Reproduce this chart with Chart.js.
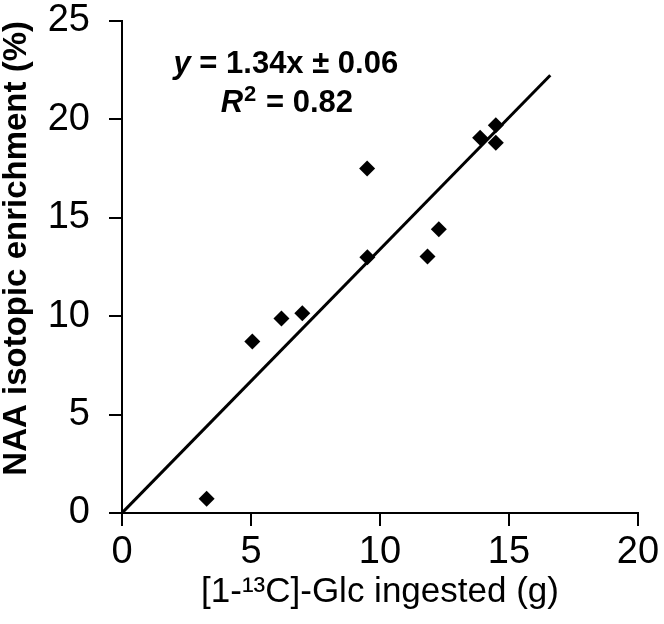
<!DOCTYPE html>
<html>
<head>
<meta charset="utf-8">
<script src="https://cdn.jsdelivr.net/npm/chart.js@4/dist/chart.umd.min.js"></script>
<style>
  html, body { margin: 0; padding: 0; background: #fff; }
  #wrap { width: 664px; height: 624px; }
</style>
</head>
<body>
<div id="wrap"><canvas id="chart" width="664" height="624"></canvas></div>
<script>
// ==== data ====
const glcIngested = [3.28, 5.05, 6.18, 6.99, 9.50, 9.51, 11.84, 12.28, 13.88, 14.49, 14.49];
const naaEnrichment = [0.73, 8.71, 9.88, 10.15, 17.51, 13.0, 13.03, 14.42, 19.07, 19.70, 18.81];

// fitted line endpoints (y = 1.34x)
const fitX = [0, 16.6];
const fitY = [0, 22.24];

const xTicks = [0, 5, 10, 15, 20];
const yTicks = [0, 5, 10, 15, 20, 25];

const xTitle = '[1-\u00B9\u00B3C]-Glc ingested (g)';
const yTitle = 'NAA isotopic enrichment (%)';

const FONT = '"Liberation Sans", Arial, sans-serif';

// equation text drawn on top of the plot
const equationPlugin = {
  id: 'equation',
  afterDatasetsDraw(chart) {
    const ctx = chart.ctx;
    const x = chart.scales.x, y = chart.scales.y;
    const cx = x.getPixelForValue(6.35);

    ctx.save();
    ctx.fillStyle = '#000';
    ctx.textBaseline = 'alphabetic';
    ctx.textAlign = 'left';

    // line 1: y = 1.34x ± 0.06
    const italic = 'italic bold 31px ' + FONT;
    const bold = 'bold 31px ' + FONT;
    ctx.font = italic;
    const w1 = ctx.measureText('y').width;
    ctx.font = bold;
    const w2 = ctx.measureText(' = 1.34x \u00B1 0.06').width;
    let px = cx - (w1 + w2) / 2;
    const by1 = y.getPixelForValue(22.35);
    ctx.font = italic;
    ctx.fillText('y', px, by1);
    ctx.font = bold;
    ctx.fillText(' = 1.34x \u00B1 0.06', px + w1, by1);

    // line 2: R² = 0.82
    const sup = 'bold 22px ' + FONT;
    ctx.font = italic;
    const r1 = ctx.measureText('R').width;
    ctx.font = sup;
    const r2 = ctx.measureText('2').width;
    ctx.font = bold;
    const r3 = ctx.measureText(' = 0.82').width;
    px = cx - (r1 + r2 + r3) / 2;
    const by2 = y.getPixelForValue(20.37);
    ctx.font = italic;
    ctx.fillText('R', px, by2);
    ctx.font = sup;
    ctx.fillText('2', px + r1 + 1, by2 - 11);
    ctx.font = bold;
    ctx.fillText(' = 0.82', px + r1 + r2 + 2, by2);
    ctx.restore();
  }
};

const axisCommon = {
  type: 'linear',
  grid: {
    drawOnChartArea: false,
    drawTicks: true,
    tickLength: 13,
    color: '#000',
    lineWidth: 2
  },
  border: { display: true, color: '#000', width: 2 }
};

new Chart(document.getElementById('chart'), {
  type: 'scatter',
  data: {
    datasets: [
      {
        label: 'data',
        data: glcIngested.map((v, i) => ({ x: v, y: naaEnrichment[i] })),
        pointStyle: 'rectRot',
        pointRadius: 8,
        backgroundColor: '#000',
        borderColor: '#000',
        borderWidth: 0
      },
      {
        label: 'fit',
        data: fitX.map((v, i) => ({ x: v, y: fitY[i] })),
        showLine: true,
        pointRadius: 0,
        borderColor: '#000',
        borderWidth: 3,
        fill: false
      }
    ]
  },
  options: {
    responsive: false,
    animation: false,
    layout: { padding: { top: 21, right: 26, left: 0, bottom: 0 } },
    plugins: {
      legend: { display: false },
      tooltip: { enabled: false }
    },
    scales: {
      x: {
        ...axisCommon,
        min: 0,
        max: 20,
        afterBuildTicks: s => { s.ticks = xTicks.map(v => ({ value: v })); },
        afterFit: s => { s.height = 111; },
        ticks: { color: '#000', font: { family: FONT, size: 38 }, padding: 4 },
        title: {
          display: true,
          text: xTitle,
          color: '#000',
          font: { family: FONT, size: 35, lineHeight: 1.2 },
          padding: { top: 0, bottom: 11 }
        }
      },
      y: {
        ...axisCommon,
        min: 0,
        max: 25,
        afterBuildTicks: s => { s.ticks = yTicks.map(v => ({ value: v })); },
        afterFit: s => { s.width = 122; s.paddingTop = 0; s.paddingBottom = 0; },
        ticks: { color: '#000', font: { family: FONT, size: 38 }, padding: 19 },
        title: {
          display: true,
          text: yTitle,
          align: 'end',
          color: '#000',
          font: { family: FONT, size: 33, weight: 'bold', lineHeight: 1.0 },
          padding: { top: 0, bottom: 0 }
        }
      }
    }
  },
  plugins: [equationPlugin]
});
</script>
</body>
</html>
